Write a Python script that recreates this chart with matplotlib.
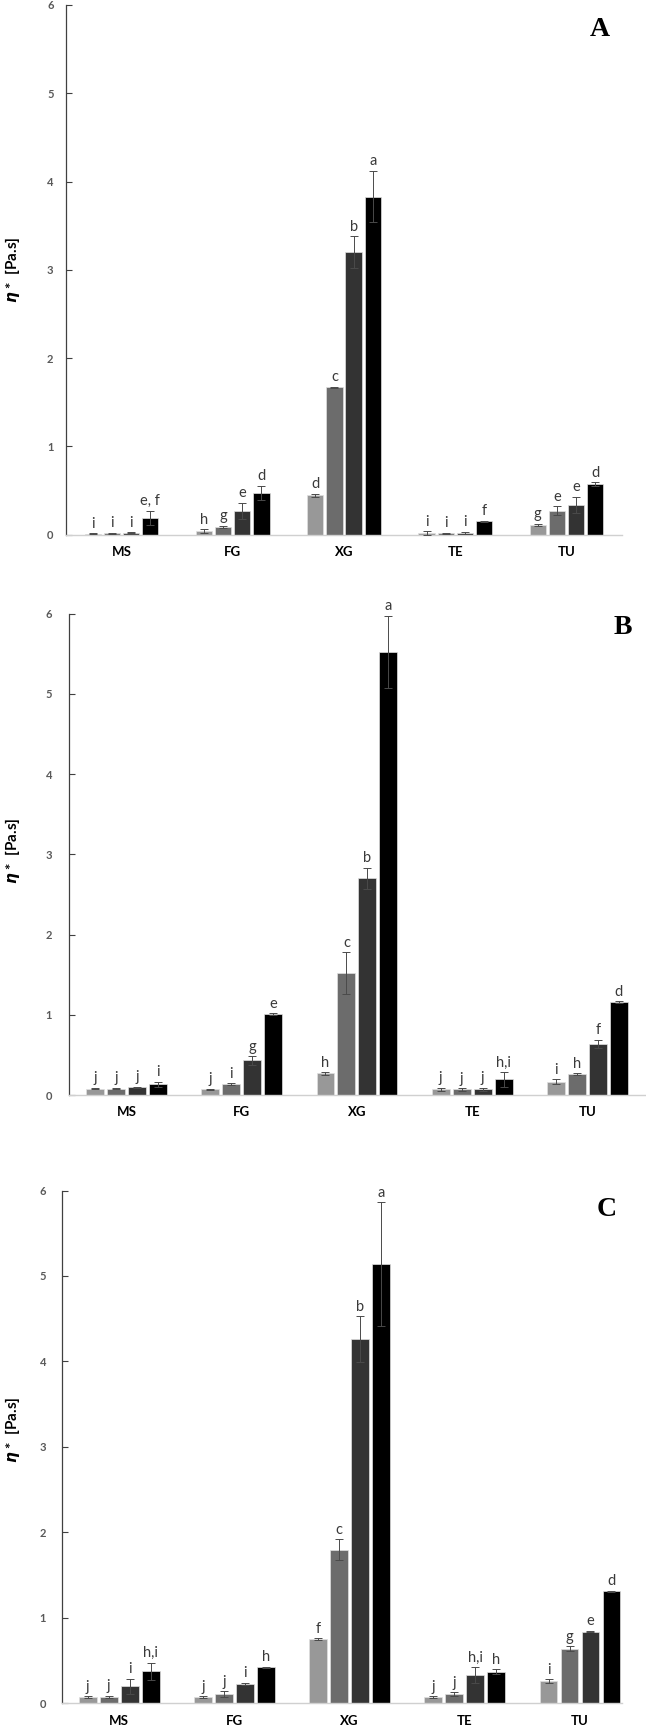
import matplotlib
matplotlib.use("Agg")
import matplotlib.pyplot as plt
import numpy as np

# categories on the x axis
categories = ["MS", "FG", "XG", "TE", "TU"]

# colours of the 4 bars in each group (light grey -> black)
bar_colors = ["#989898", "#6c6c6c", "#333333", "#000000"]

# panel A : values, error bars and letters (one row per category)
a_values = [[0.01, 0.015, 0.02, 0.19],
            [0.04, 0.09, 0.27, 0.47],
            [0.445, 1.67, 3.20, 3.83],
            [0.02, 0.015, 0.02, 0.15],
            [0.11, 0.27, 0.34, 0.57]]
a_errors = [[0.005, 0.005, 0.005, 0.08],
            [0.02, 0.01, 0.09, 0.08],
            [0.015, 0.005, 0.18, 0.29],
            [0.02, 0.005, 0.01, 0.005],
            [0.01, 0.05, 0.09, 0.025]]
a_letters = [["i", "i", "i", "e, f"],
             ["h", "g", "e", "d"],
             ["d", "c", "b", "a"],
             ["i", "i", "i", "f"],
             ["g", "e", "e", "d"]]

# panel B
b_values = [[0.08, 0.08, 0.095, 0.135],
            [0.07, 0.135, 0.43, 1.01],
            [0.27, 1.52, 2.70, 5.52],
            [0.07, 0.07, 0.07, 0.195],
            [0.165, 0.26, 0.635, 1.16]]
b_errors = [[0.01, 0.01, 0.005, 0.03],
            [0.01, 0.01, 0.05, 0.01],
            [0.015, 0.26, 0.13, 0.45],
            [0.02, 0.015, 0.02, 0.09],
            [0.03, 0.01, 0.05, 0.01]]
b_letters = [["j", "j", "j", "i"],
             ["j", "i", "g", "e"],
             ["h", "c", "b", "a"],
             ["j", "j", "j", "h,i"],
             ["i", "h", "f", "d"]]

# panel C
c_values = [[0.075, 0.075, 0.20, 0.375],
            [0.075, 0.11, 0.23, 0.42],
            [0.75, 1.80, 4.26, 5.14],
            [0.075, 0.11, 0.33, 0.37],
            [0.26, 0.64, 0.84, 1.31]]
c_errors = [[0.01, 0.015, 0.09, 0.10],
            [0.01, 0.03, 0.01, 0.01],
            [0.01, 0.12, 0.27, 0.72],
            [0.01, 0.02, 0.09, 0.03],
            [0.02, 0.03, 0.01, 0.01]]
c_letters = [["j", "j", "i", "h,i"],
             ["j", "j", "i", "h"],
             ["f", "c", "b", "a"],
             ["j", "j", "h,i", "h"],
             ["i", "g", "e", "d"]]

W, H = 646, 1730
fig = plt.figure(figsize=(W / 100, H / 100), dpi=100)
sans = ["Lato", "DejaVu Sans"]


def draw_panel(box, xmax, values, errors, letters, name, name_xy, slot, tickpad, label_y):
    left, top, right, bottom = box
    ax = fig.add_axes([left / W, 1 - bottom / H, (right - left) / W, (bottom - top) / H])
    values = np.array(values)
    errors = np.array(errors)
    x = np.arange(len(categories))
    for k in range(4):
        pos = x + (k - 1.5) * slot
        ax.bar(pos, values[:, k], width=slot * 0.85, color=bar_colors[k],
               edgecolor="#e0e0e0", linewidth=0.5, zorder=2)
        ax.errorbar(pos, values[:, k], yerr=errors[:, k], fmt="none",
                    ecolor="#4a4a4a", elinewidth=0.7, capsize=2.8, capthick=0.7, zorder=3)
        # lettres de significativite au-dessus des barres
        for i in range(len(categories)):
            ax.annotate(letters[i][k], (pos[i], values[i, k] + errors[i, k]),
                        xytext=(0, 4), textcoords="offset points", ha="center",
                        va="baseline", fontsize=10.5, color="#3a3a3a", family=sans)
    ax.set_xlim(-0.5, xmax)
    ax.set_ylim(0, 6)
    ax.set_yticks(range(7))
    ax.set_xticks(x)
    ax.set_xticklabels(categories, fontsize=9.5, fontweight="bold", family=sans)
    ax.tick_params(axis="x", length=0, pad=8)
    ax.tick_params(axis="y", direction="in", length=4, width=0.8, color="#404040",
                   labelsize=8, labelcolor="#595959", pad=tickpad)
    for lab in ax.get_yticklabels():
        lab.set_fontweight("bold")
        lab.set_family(sans)
    ax.spines["top"].set_visible(False)
    ax.spines["right"].set_visible(False)
    ax.spines["left"].set_color("#404040")
    ax.spines["left"].set_linewidth(0.9)
    ax.spines["bottom"].set_color("#d0d0d0")
    ax.spines["bottom"].set_linewidth(1.0)
    # titre de l'axe des ordonnees
    fig.text(13 / W, 1 - label_y / H, r"$\boldsymbol{\eta}$ *  [Pa.s]", rotation=90,
             ha="center", va="center", fontsize=11, fontweight="bold", family=sans)
    # lettre du panneau
    fig.text(name_xy[0] / W, 1 - name_xy[1] / H, name, ha="center", va="center",
             fontsize=20, fontweight="bold", family="Liberation Serif")
    return ax


draw_panel((66, 5, 622, 534.6), 4.5, a_values, a_errors, a_letters,
           "A", (600, 29), 0.172, 9, 270)
draw_panel((68.8, 613.6, 645, 1095), 4.5, b_values, b_errors, b_letters,
           "B", (623, 628), 0.182, 12, 851)
draw_panel((61.6, 1190.5, 622, 1703.4), -0.5 + (622 - 61.6) / 115.2, c_values, c_errors, c_letters,
           "C", (607, 1209), 0.182, 11, 1430)

fig.savefig("out.png", dpi=100)
